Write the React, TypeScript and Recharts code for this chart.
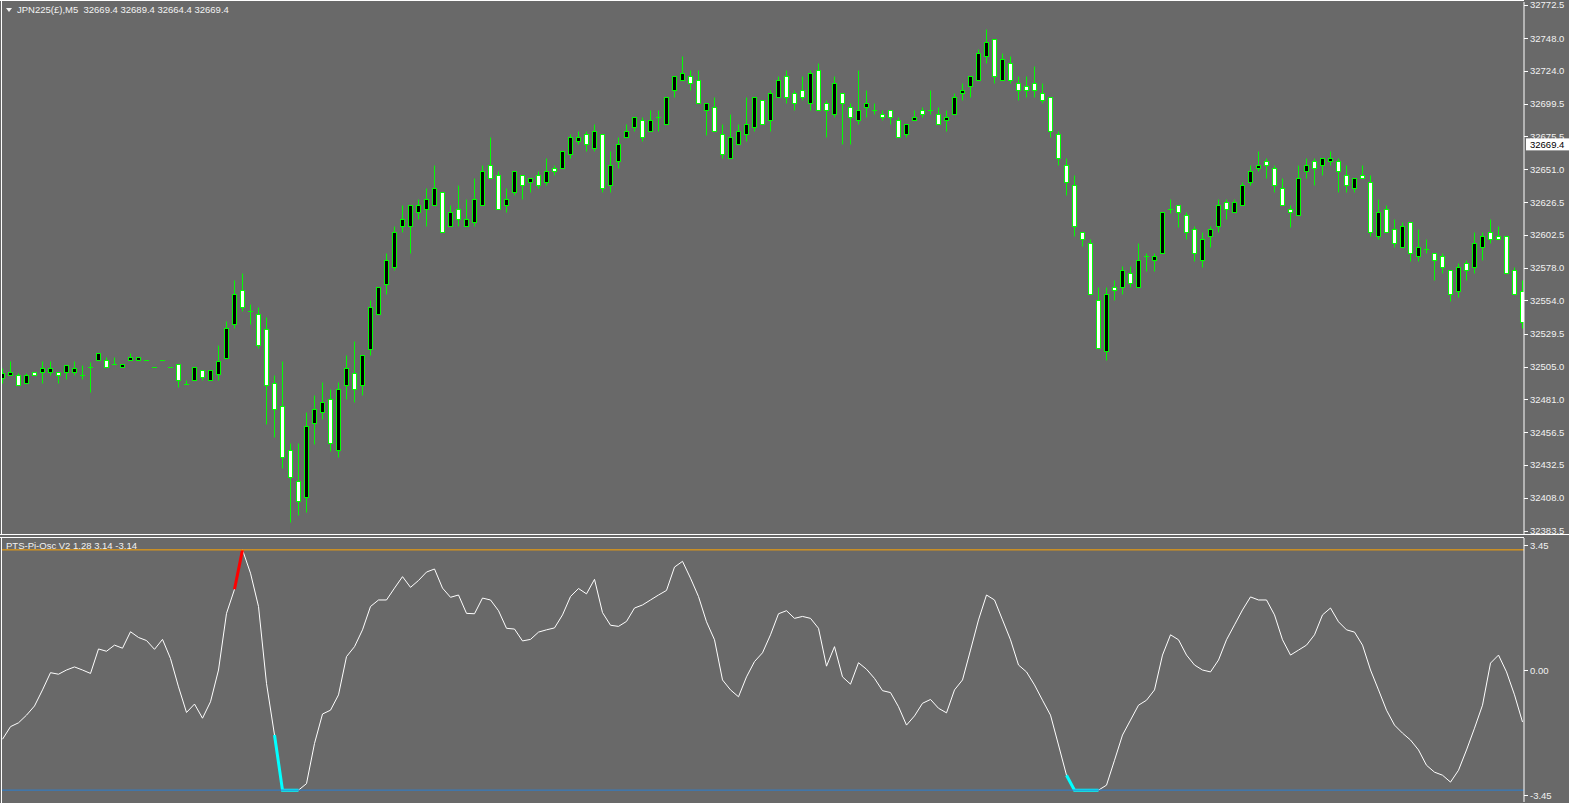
import React from 'react';
import { ComposedChart, Bar, Line, XAxis, YAxis, ReferenceLine } from 'recharts';

// JPN225 M5 bars (oldest first)
const opens = [
  32496.7, 32498.7, 32498.7, 32493.2, 32500.9, 32500.9, 32500.9, 32500.9, 32500.9, 32500.9,
  32499.1, 32504.6, 32509.8, 32509.8, 32506.8, 32504.6, 32509.8, 32509.8, 32509.8, 32504.6,
  32509.8, 32504.6, 32506.8, 32492.0, 32495.0, 32502.4, 32495.0, 32499.4, 32511.2, 32536.4,
  32561.4, 32546.0, 32543.8, 32533.1, 32493.2, 32475.7, 32443.2, 32420.7, 32408.4, 32463.2,
  32471.3, 32480.9, 32443.2, 32491.3, 32500.6, 32491.3, 32518.3, 32543.8, 32566.4, 32579.0,
  32608.9, 32608.9, 32619.2, 32621.4, 32624.4, 32634.0, 32608.9, 32621.4, 32608.9, 32611.8,
  32624.4, 32654.0, 32646.6, 32624.4, 32634.0, 32646.6, 32641.4, 32646.6, 32641.4, 32651.7,
  32651.7, 32662.1, 32671.7, 32676.9, 32666.5, 32676.9, 32639.2, 32656.9, 32674.7, 32682.1,
  32687.2, 32679.1, 32689.5, 32684.3, 32709.4, 32716.8, 32719.8, 32716.8, 32694.6, 32696.9,
  32676.9, 32659.1, 32669.5, 32676.9, 32682.1, 32702.0, 32687.2, 32704.2, 32719.8, 32707.2,
  32709.4, 32699.8, 32724.4, 32699.8, 32691.7, 32707.2, 32696.9, 32687.2, 32696.9, 32694.6,
  32691.7, 32694.6, 32687.2, 32676.9, 32687.2, 32694.6, 32694.6, 32691.7, 32687.2, 32691.7,
  32707.2, 32712.4, 32716.8, 32734.6, 32747.1, 32716.8, 32729.4, 32714.6, 32712.4, 32714.6,
  32707.2, 32704.2, 32676.9, 32654.0, 32639.2, 32604.4, 32596.3, 32554.1, 32516.4, 32563.7,
  32563.7, 32574.1, 32563.7, 32586.9, 32583.7, 32588.9, 32621.4, 32624.4, 32617.0, 32606.6,
  32583.7, 32601.5, 32608.9, 32626.6, 32619.2, 32624.4, 32641.4, 32651.7, 32656.9, 32651.7,
  32637.0, 32621.4, 32617.0, 32649.5, 32656.9, 32654.0, 32656.9, 32656.9, 32646.6, 32637.0,
  32646.6, 32641.4, 32601.5, 32621.4, 32606.6, 32593.8, 32611.8, 32586.7, 32591.8, 32588.9,
  32586.7, 32576.3, 32561.2, 32581.5, 32579.0, 32593.8, 32604.4, 32601.5, 32601.5, 32576.3,
  32561.2,
];
const highs = [
  32504.1, 32509.2, 32500.6, 32500.6, 32500.9, 32509.2, 32509.2, 32500.9, 32506.1, 32509.2,
  32506.1, 32508.3, 32514.9, 32512.0, 32512.0, 32506.8, 32514.9, 32512.0, 32509.8, 32504.6,
  32509.8, 32504.6, 32506.8, 32495.0, 32504.6, 32502.4, 32502.4, 32520.8, 32538.8, 32569.0,
  32574.1, 32551.2, 32549.0, 32541.6, 32498.7, 32509.0, 32448.6, 32448.6, 32471.3, 32483.9,
  32493.7, 32488.3, 32493.7, 32513.5, 32524.0, 32513.5, 32554.1, 32563.7, 32588.9, 32608.9,
  32624.6, 32624.4, 32628.8, 32637.0, 32654.2, 32634.0, 32624.4, 32639.2, 32628.8, 32644.3,
  32654.0, 32674.9, 32649.5, 32637.0, 32649.5, 32646.6, 32644.3, 32649.5, 32659.1, 32654.0,
  32664.3, 32676.9, 32679.1, 32679.1, 32684.3, 32676.9, 32664.3, 32674.7, 32684.3, 32689.5,
  32689.5, 32694.6, 32694.6, 32704.2, 32719.8, 32734.8, 32724.4, 32724.4, 32699.8, 32704.2,
  32684.3, 32691.7, 32684.3, 32704.2, 32704.2, 32702.0, 32709.4, 32719.8, 32724.4, 32709.4,
  32719.8, 32724.4, 32729.6, 32702.0, 32719.8, 32707.2, 32699.8, 32724.4, 32709.4, 32699.8,
  32694.6, 32694.6, 32689.5, 32684.3, 32694.6, 32696.9, 32709.4, 32696.9, 32694.6, 32707.2,
  32714.6, 32719.8, 32739.7, 32754.8, 32747.1, 32736.8, 32734.6, 32719.8, 32719.8, 32727.2,
  32714.6, 32704.2, 32679.1, 32659.1, 32646.6, 32604.4, 32599.2, 32563.7, 32563.7, 32568.9,
  32579.3, 32579.3, 32596.3, 32588.9, 32588.9, 32619.2, 32628.8, 32624.4, 32619.2, 32608.9,
  32604.4, 32608.9, 32628.8, 32628.8, 32628.8, 32641.4, 32654.0, 32664.3, 32659.1, 32654.0,
  32644.3, 32624.4, 32654.0, 32659.1, 32659.1, 32659.1, 32664.3, 32659.1, 32654.0, 32644.3,
  32654.0, 32646.6, 32628.8, 32624.4, 32614.0, 32611.8, 32611.8, 32606.6, 32599.2, 32588.9,
  32588.9, 32576.3, 32581.5, 32583.7, 32604.4, 32604.4, 32614.0, 32608.9, 32601.5, 32579.0,
  32569.1,
];
const lows = [
  32493.2, 32498.7, 32491.3, 32493.2, 32498.7, 32493.2, 32498.7, 32493.2, 32496.2, 32498.7,
  32496.2, 32486.5, 32509.8, 32504.6, 32506.8, 32504.6, 32509.8, 32509.8, 32509.8, 32504.6,
  32509.8, 32504.6, 32489.8, 32492.0, 32495.0, 32495.0, 32495.0, 32495.0, 32511.2, 32533.3,
  32546.0, 32536.4, 32518.5, 32462.9, 32453.3, 32430.3, 32390.4, 32395.6, 32397.8, 32448.1,
  32466.1, 32442.9, 32438.3, 32480.9, 32478.7, 32483.9, 32513.5, 32543.8, 32558.6, 32576.3,
  32604.4, 32588.9, 32614.0, 32608.9, 32624.4, 32604.4, 32608.9, 32608.9, 32608.9, 32608.9,
  32624.4, 32644.3, 32621.4, 32619.2, 32631.8, 32628.8, 32634.0, 32637.0, 32639.2, 32646.6,
  32651.7, 32659.1, 32669.5, 32664.3, 32664.3, 32634.0, 32634.0, 32651.7, 32674.7, 32679.1,
  32671.7, 32679.1, 32679.1, 32684.3, 32704.2, 32716.8, 32709.4, 32699.8, 32676.6, 32679.1,
  32659.1, 32659.1, 32669.5, 32671.7, 32679.1, 32684.3, 32679.1, 32704.2, 32699.8, 32694.6,
  32702.0, 32694.6, 32694.6, 32674.7, 32689.5, 32669.5, 32669.5, 32684.3, 32689.5, 32691.7,
  32687.2, 32684.3, 32674.7, 32674.7, 32687.2, 32689.5, 32691.7, 32684.3, 32679.1, 32691.7,
  32702.0, 32704.2, 32716.8, 32729.4, 32714.6, 32716.8, 32714.6, 32702.0, 32704.2, 32704.2,
  32699.8, 32674.7, 32654.0, 32631.8, 32601.5, 32594.1, 32558.6, 32518.6, 32510.0, 32554.1,
  32558.6, 32563.7, 32563.7, 32576.0, 32576.0, 32588.9, 32618.9, 32608.6, 32599.2, 32583.4,
  32579.0, 32593.8, 32604.4, 32614.0, 32619.2, 32624.4, 32639.2, 32649.5, 32644.3, 32634.0,
  32624.4, 32608.6, 32617.0, 32644.3, 32639.2, 32646.6, 32654.0, 32634.0, 32634.0, 32634.0,
  32644.3, 32601.5, 32599.2, 32604.4, 32593.8, 32593.8, 32583.4, 32583.4, 32588.9, 32569.1,
  32574.1, 32553.8, 32556.3, 32569.1, 32574.1, 32583.7, 32596.3, 32599.2, 32574.1, 32558.6,
  32533.4,
];
const closes = [
  32500.6, 32500.9, 32491.3, 32498.7, 32498.7, 32503.8, 32503.8, 32498.7, 32506.1, 32503.8,
  32499.1, 32504.6, 32514.9, 32504.6, 32506.8, 32506.8, 32512.0, 32512.0, 32509.8, 32504.6,
  32509.8, 32504.6, 32495.0, 32492.0, 32504.6, 32497.2, 32502.4, 32509.0, 32533.3, 32558.6,
  32549.0, 32546.0, 32520.8, 32491.3, 32473.5, 32438.3, 32423.2, 32405.7, 32460.9, 32473.5,
  32478.7, 32448.4, 32488.3, 32503.8, 32488.3, 32513.5, 32549.0, 32563.7, 32583.7, 32604.4,
  32614.0, 32624.4, 32624.4, 32628.8, 32637.0, 32604.4, 32619.2, 32614.0, 32614.0, 32628.8,
  32649.5, 32644.3, 32621.4, 32628.8, 32649.5, 32639.2, 32644.3, 32639.2, 32649.5, 32649.5,
  32664.3, 32674.7, 32674.7, 32669.5, 32679.1, 32637.0, 32654.0, 32669.5, 32679.1, 32689.5,
  32674.7, 32687.2, 32689.5, 32704.2, 32719.8, 32722.0, 32714.6, 32699.8, 32699.8, 32679.1,
  32662.1, 32674.7, 32679.1, 32684.3, 32704.2, 32684.3, 32707.2, 32716.8, 32704.2, 32699.8,
  32704.2, 32722.0, 32694.6, 32694.6, 32714.6, 32699.8, 32689.5, 32694.6, 32699.8, 32694.6,
  32689.5, 32689.5, 32674.7, 32684.3, 32689.5, 32691.7, 32694.6, 32684.3, 32689.5, 32704.2,
  32709.4, 32719.8, 32736.8, 32744.9, 32719.8, 32732.3, 32716.8, 32709.4, 32709.4, 32709.4,
  32702.0, 32679.1, 32659.1, 32641.4, 32608.9, 32599.2, 32558.6, 32518.6, 32558.6, 32561.5,
  32576.3, 32566.7, 32583.7, 32586.9, 32586.9, 32619.2, 32621.4, 32619.2, 32604.4, 32588.9,
  32599.2, 32606.6, 32624.4, 32621.4, 32626.6, 32639.2, 32649.5, 32654.0, 32654.0, 32639.2,
  32624.4, 32619.2, 32644.3, 32654.0, 32651.7, 32659.1, 32659.1, 32649.5, 32639.2, 32644.3,
  32644.3, 32604.4, 32619.2, 32604.4, 32596.3, 32608.9, 32588.9, 32593.8, 32591.8, 32583.7,
  32579.0, 32558.6, 32579.0, 32576.3, 32596.3, 32601.5, 32599.2, 32599.2, 32574.1, 32558.6,
  32538.3,
];

// PTS-Pi-Osc values, one per bar
const oscValues = [
  -1.81, -1.48, -1.38, -1.18, -0.94, -0.52, -0.07, -0.11, 0.0, 0.08,
  0.0, -0.09, 0.55, 0.49, 0.65, 0.57, 1.0, 0.85, 0.77, 0.54,
  0.8, 0.3, -0.44, -1.11, -0.89, -1.26, -0.83, 0.0, 1.48, 2.11,
  3.14, 2.53, 1.66, -0.35, -1.7, -3.14, -3.14, -3.14, -2.97, -1.92,
  -1.15, -1.05, -0.65, 0.35, 0.61, 1.05, 1.66, 1.83, 1.83, 2.14,
  2.44, 2.16, 2.34, 2.56, 2.64, 2.14, 1.9, 1.96, 1.48, 1.47,
  1.88, 1.83, 1.55, 1.09, 1.07, 0.76, 0.8, 0.99, 1.05, 1.1,
  1.44, 1.92, 2.13, 1.99, 2.37, 1.5, 1.17, 1.14, 1.27, 1.62,
  1.7, 1.83, 1.96, 2.08, 2.69, 2.84, 2.4, 1.92, 1.26, 0.79,
  -0.26, -0.52, -0.7, -0.18, 0.22, 0.45, 0.92, 1.47, 1.55, 1.35,
  1.4, 1.35, 1.09, 0.1, 0.61, -0.18, -0.37, 0.19, 0.02, -0.22,
  -0.54, -0.59, -0.96, -1.44, -1.2, -0.87, -0.77, -1.0, -1.12, -0.52,
  -0.26, 0.52, 1.31, 1.96, 1.83, 1.31, 0.79, 0.13, -0.05, -0.39,
  -0.79, -1.18, -1.96, -2.75, -3.14, -3.14, -3.14, -3.14, -3.01, -2.36,
  -1.7, -1.31, -0.92, -0.79, -0.52, 0.39, 0.92, 0.79, 0.39, 0.13,
  0.0, -0.05, 0.26, 0.79, 1.18, 1.57, 1.91, 1.83, 1.83, 1.44,
  0.79, 0.39, 0.52, 0.65, 0.92, 1.44, 1.62, 1.26, 1.05, 0.99,
  0.65, 0.0, -0.52, -1.05, -1.44, -1.65, -1.83, -2.09, -2.49, -2.67,
  -2.75, -2.93, -2.62, -2.09, -1.52, -0.92, 0.18, 0.39, -0.05, -0.65,
  -1.36,
];
const redSegments = [[29, 30]];
const cyanSegments = [[34, 37], [133, 137]];

const priceTicks = [
  32772.5, 32748.0, 32724.0, 32699.5, 32675.5, 32651.0, 32626.5, 32602.5, 32578.0,
  32554.0, 32529.5, 32505.0, 32481.0, 32456.5, 32432.5, 32408.0, 32383.5,
];
const lastPrice = 32669.4;
const oscTicks = [3.45, 0, -3.45];
const oscHigh = 3.14;
const oscLow = -3.14;
const headerText = 'JPN225(£),M5  32669.4 32689.4 32664.4 32669.4';
const oscTitle = 'PTS-Pi-Osc V2 1.28 3.14 -3.14';

const BG = '#696969';
const FG = '#f2f2f2';
const FONT = '"Liberation Sans", Arial, sans-serif';

const inSeg = (i: number, segs: number[][]) => segs.some(([a, b]) => i >= a && i <= b);

const data = opens.map((o, i) => ({
  k: i,
  range: [lows[i], highs[i]],
  open: o,
  high: highs[i],
  low: lows[i],
  close: closes[i],
  osc: oscValues[i],
  red: inSeg(i, redSegments) ? oscValues[i] : null,
  cyan: inSeg(i, cyanSegments) ? oscValues[i] : null,
}));

const crisp = (v: number) => Math.round(v) + 0.5;

const CandleShape = (props: any) => {
  const { x, y, width, height, payload } = props;
  if (!payload || x == null || y == null) return null;
  const { open, high, low, close } = payload;
  const cx = Math.floor(x + width / 2) + 0.5;
  const span = high - low;
  const yOf = (p: number) => (span > 0 ? y + ((high - p) / span) * height : y);
  const top = crisp(yOf(Math.max(open, close)));
  const bot = crisp(yOf(Math.min(open, close)));
  return (
    <g>
      {span > 0 && (
        <line x1={cx} x2={cx} y1={crisp(yOf(high))} y2={crisp(yOf(low))} stroke="#00ff00" strokeWidth={1} />
      )}
      {bot - top < 1 ? (
        <line x1={cx - 2.5} x2={cx + 2.5} y1={top} y2={top} stroke="#00ff00" strokeWidth={1} />
      ) : (
        <rect
          x={cx - 2}
          y={top}
          width={4}
          height={bot - top}
          fill={close > open ? '#000000' : '#ffffff'}
          stroke="#00ff00"
          strokeWidth={1}
        />
      )}
    </g>
  );
};

const PriceTick = (props: any) => {
  const { x, y, payload } = props;
  const v = payload.value;
  if (v === lastPrice) {
    return (
      <g>
        <rect x={x - 4} y={y - 6} width={44} height={12} fill="#ffffff" />
        <text x={x} y={y} dy={3.5} fontSize={9.5} fontFamily={FONT} fill="#000000">
          {v.toFixed(1)}
        </text>
      </g>
    );
  }
  return (
    <g>
      <line x1={x - 6} x2={x - 2} y1={crisp(y)} y2={crisp(y)} stroke="#ffffff" />
      <text x={x} y={y} dy={3.5} fontSize={9.5} fontFamily={FONT} fill={FG}>
        {v.toFixed(1)}
      </text>
    </g>
  );
};

// osc panel svg starts at page y 537; edge labels are held inside the panel
const OscTick = (props: any) => {
  const { x, y, payload } = props;
  const yy = Math.min(Math.max(y, 8), 258);
  return (
    <g>
      <line x1={x - 6} x2={x - 2} y1={crisp(yy)} y2={crisp(yy)} stroke="#ffffff" />
      <text x={x} y={yy} dy={3.5} fontSize={9.5} fontFamily={FONT} fill={FG}>
        {payload.value.toFixed(2)}
      </text>
    </g>
  );
};

const xDomain = [-0.1875, 190.1875];

export default function App() {
  return (
    <div
      style={{
        position: 'absolute',
        left: 0,
        top: 0,
        width: 1569,
        height: 803,
        background: BG,
        overflow: 'hidden',
        fontFamily: FONT,
      }}
    >
      {/* price panel */}
      <div style={{ position: 'absolute', left: 0, top: 0 }}>
        <ComposedChart width={1569} height={535} data={data} margin={{ top: 2, right: 0, bottom: 0, left: 1 }}>
          <XAxis dataKey="k" type="number" domain={xDomain} allowDataOverflow hide />
          <YAxis
            orientation="right"
            width={45}
            domain={[32380.5, 32774.7]}
            allowDataOverflow
            ticks={[...priceTicks, lastPrice]}
            interval={0}
            tick={<PriceTick />}
            tickLine={false}
            tickSize={4}
            tickMargin={2}
            axisLine={{ stroke: '#ffffff' }}
          />
          <Bar dataKey="range" barSize={5} shape={<CandleShape />} isAnimationActive={false} />
        </ComposedChart>
      </div>

      {/* oscillator panel */}
      <div style={{ position: 'absolute', left: 0, top: 537 }}>
        <ComposedChart width={1569} height={266} data={data} margin={{ top: 1, right: 0, bottom: 1, left: 1 }}>
          <XAxis dataKey="k" type="number" domain={xDomain} allowDataOverflow hide />
          <YAxis
            orientation="right"
            width={45}
            domain={[-3.45, 3.45]}
            allowDataOverflow
            ticks={oscTicks}
            interval={0}
            tick={<OscTick />}
            tickLine={false}
            tickSize={4}
            tickMargin={2}
            axisLine={{ stroke: '#ffffff' }}
          />
          <Line type="linear" dataKey="osc" stroke="#ffffff" strokeWidth={1} dot={false} isAnimationActive={false} />
          <Line type="linear" dataKey="red" stroke="#ff0000" strokeWidth={3} dot={false} connectNulls={false} isAnimationActive={false} />
          <Line type="linear" dataKey="cyan" stroke="#00ffff" strokeWidth={3} dot={false} connectNulls={false} isAnimationActive={false} />
          <ReferenceLine y={oscHigh} stroke="#ffa500" strokeWidth={1} />
          <ReferenceLine y={oscLow} stroke="#2a7fd0" strokeWidth={1} />
        </ComposedChart>
      </div>

      {/* panel frames */}
      <div style={{ position: 'absolute', left: 0, top: 0, width: 1524, height: 0, borderTop: '1px solid #fff' }} />
      <div style={{ position: 'absolute', left: 1, top: 0, width: 0, height: 535, borderLeft: '1px solid #fff' }} />
      <div style={{ position: 'absolute', left: 0, top: 534, width: 1569, height: 0, borderTop: '1px solid #fff' }} />
      <div style={{ position: 'absolute', left: 0, top: 537, width: 1524, height: 0, borderTop: '1px solid #fff' }} />
      <div style={{ position: 'absolute', left: 1, top: 537, width: 0, height: 266, borderLeft: '1px solid #fff' }} />

      {/* titles */}
      <svg style={{ position: 'absolute', left: 6, top: 8 }} width={7} height={5}>
        <polygon points="0,0 6,0 3,4" fill={FG} />
      </svg>
      <div
        style={{
          position: 'absolute',
          left: 17,
          top: 4,
          fontSize: 9.5,
          lineHeight: '12px',
          color: FG,
          whiteSpace: 'pre',
        }}
      >
        {headerText}
      </div>
      <div
        style={{
          position: 'absolute',
          left: 6,
          top: 540,
          fontSize: 9.5,
          lineHeight: '12px',
          color: FG,
          whiteSpace: 'pre',
        }}
      >
        {oscTitle}
      </div>
    </div>
  );
}
